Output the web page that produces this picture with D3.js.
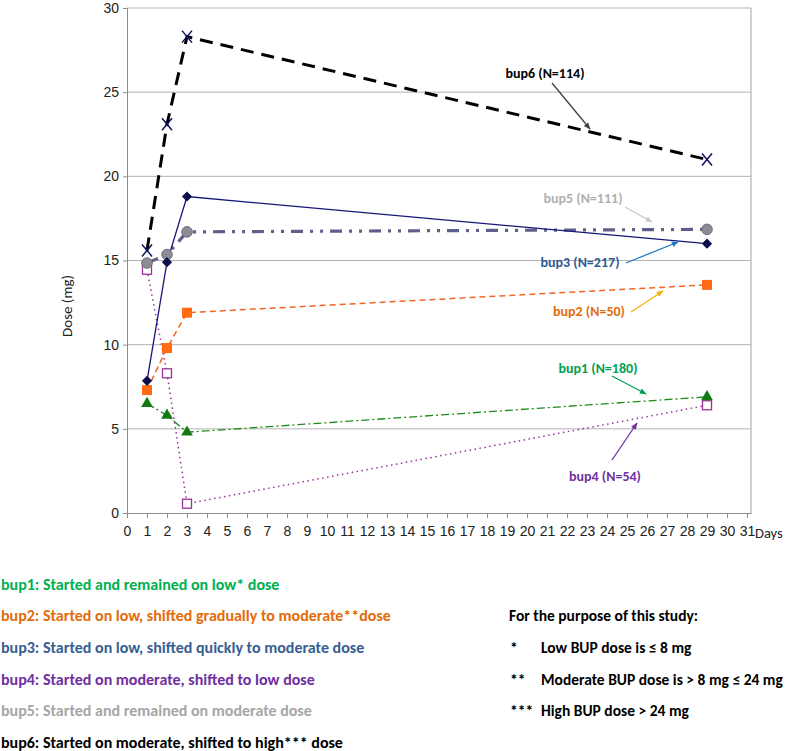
<!DOCTYPE html>
<html><head><meta charset="utf-8">
<script src="https://cdn.jsdelivr.net/npm/d3@7"></script>
<style>
body{margin:0;background:#fff;}
svg{display:block;}
</style></head>
<body>
<script>
const days = [1, 2, 3, 29];
const xTicks = d3.range(0, 32);
const yTicks = [0, 5, 10, 15, 20, 25, 30];
const bup1 = [6.5, 5.8, 4.8, 6.9];
const bup2 = [7.3, 9.8, 11.9, 13.55];
const bup3 = [7.85, 14.9, 18.8, 16.0];
const bup4 = [14.45, 8.3, 0.55, 6.4];
const bup5 = [14.85, 15.35, 16.7, 16.85];
const bup6 = [15.6, 23.1, 28.3, 21.0];
const seriesNames = ["bup1", "bup2", "bup3", "bup4", "bup5", "bup6"];
const annotations = ["bup1 (N=180)", "bup2 (N=50)", "bup3 (N=217)", "bup4 (N=54)", "bup5 (N=111)", "bup6 (N=114)"];
const legendTexts = [
  "bup1: Started and remained on low* dose",
  "bup2: Started on low, shifted gradually to moderate**dose",
  "bup3: Started on low, shifted quickly to moderate dose",
  "bup4: Started on moderate, shifted to low dose",
  "bup5: Started and remained on moderate dose",
  "bup6: Started on moderate, shifted to high*** dose"
];
const noteTitle = "For the purpose of this study:";
const noteMarks = ["*", "**", "***"];
const noteTexts = ["Low BUP dose is ≤ 8 mg", "Moderate BUP dose is > 8 mg ≤ 24 mg", "High BUP dose > 24 mg"];

const W = 800, H = 751;
const svg = d3.select("body").append("svg").attr("width", W).attr("height", H);
const defs = svg.append("defs");

const pLeft = 127, pRight = 751, pTop = 8, pBottom = 513;
const x = d3.scaleLinear().domain([0, 31.2]).range([pLeft, pRight]);
const y = d3.scaleLinear().domain([0, 30]).range([pBottom, pTop]);

const narrow = "'Liberation Sans Narrow','Arial Narrow','Liberation Sans',Arial,sans-serif";
const calibri = "Carlito,Calibri,Lato,'Open Sans',sans-serif";

svg.append("g").selectAll("line").data(yTicks.filter(d => d > 0)).join("line")
  .attr("x1", pLeft).attr("x2", pRight).attr("y1", d => y(d)).attr("y2", d => y(d))
  .attr("stroke", "#b3b3b3").attr("stroke-width", 1);
svg.append("line").attr("x1", pRight).attr("x2", pRight).attr("y1", pTop).attr("y2", pBottom)
  .attr("stroke", "#b3b3b3").attr("stroke-width", 1.2);

const yAxis = d3.axisLeft(y).tickValues(yTicks).tickSize(4).tickPadding(4);
const gy = svg.append("g").attr("transform", `translate(${pLeft},0)`).call(yAxis);
gy.select(".domain").attr("stroke", "#8c8c8c");
gy.selectAll(".tick line").attr("stroke", "#8c8c8c");
gy.selectAll("text").attr("font-family", narrow).attr("font-size", 14).attr("fill", "#222");

const xAxis = d3.axisBottom(x).tickValues(xTicks).tickSize(5).tickPadding(8).tickSizeOuter(0);
const gx = svg.append("g").attr("transform", `translate(0,${pBottom})`).call(xAxis);
gx.select(".domain").attr("stroke", "#8c8c8c");
gx.selectAll(".tick line").attr("stroke", "#8c8c8c");
gx.selectAll("text").attr("font-family", narrow).attr("font-size", 14).attr("fill", "#222");

svg.append("text").attr("x", 755).attr("y", 538).text("Days")
  .attr("font-family", calibri).attr("font-size", 14.5).attr("fill", "#222");
svg.append("text").attr("transform", "translate(72,306) rotate(-90)").attr("text-anchor", "middle")
  .text("Dose (mg)").attr("font-family", calibri).attr("font-size", 15).attr("fill", "#222");

const line = d3.line().x(d => x(d[0])).y(d => y(d[1]));
const pts = arr => days.map((d, i) => [d, arr[i]]);

const styles = {
  bup1: {stroke: "#1f8a1f", width: 1.3, dash: "8,3,2,3"},
  bup2: {stroke: "#f26522", width: 1.5, dash: "6,4"},
  bup3: {stroke: "#16167a", width: 1.3, dash: null},
  bup4: {stroke: "#993399", width: 1.5, dash: "1.5,3.5"},
  bup5: {stroke: "#5f5f8c", width: 3.2, dash: "12,7,3,7,3,7"},
  bup6: {stroke: "#000000", width: 3, dash: "13,8"}
};
const data = {bup1, bup2, bup3, bup4, bup5, bup6};
const order = ["bup4", "bup1", "bup2", "bup5", "bup3", "bup6"];

order.forEach(k => {
  const s = styles[k];
  svg.append("path").datum(pts(data[k])).attr("d", line)
    .attr("fill", "none").attr("stroke", s.stroke).attr("stroke-width", s.width)
    .attr("stroke-dasharray", s.dash);
});

function markers(k) {
  const g = svg.append("g");
  const p = pts(data[k]);
  if (k === "bup1") {
    g.selectAll("path").data(p).join("path")
      .attr("transform", d => `translate(${x(d[0])},${y(d[1])})`)
      .attr("d", d3.symbol(d3.symbolTriangle, 60)()).attr("fill", "#137a13");
  } else if (k === "bup2") {
    g.selectAll("rect").data(p).join("rect")
      .attr("x", d => x(d[0]) - 5).attr("y", d => y(d[1]) - 5).attr("width", 10).attr("height", 10)
      .attr("fill", "#ff6a13");
  } else if (k === "bup3") {
    g.selectAll("path").data(p).join("path")
      .attr("transform", d => `translate(${x(d[0])},${y(d[1])}) rotate(45)`)
      .attr("d", "M-3.6,-3.6H3.6V3.6H-3.6Z").attr("fill", "#0b0b4a");
  } else if (k === "bup4") {
    g.selectAll("rect").data(p).join("rect")
      .attr("x", d => x(d[0]) - 4.5).attr("y", d => y(d[1]) - 4.5).attr("width", 9).attr("height", 9)
      .attr("fill", "#fff").attr("stroke", "#993399").attr("stroke-width", 1.3);
  } else if (k === "bup5") {
    g.selectAll("circle").data(p).join("circle")
      .attr("cx", d => x(d[0])).attr("cy", d => y(d[1])).attr("r", 5.3)
      .attr("fill", "#8c8c96").attr("stroke", "#6e6e78").attr("stroke-width", 1);
  } else if (k === "bup6") {
    g.selectAll("path").data(p).join("path")
      .attr("transform", d => `translate(${x(d[0])},${y(d[1])})`)
      .attr("d", "M-5,-6L5,6M5,-6L-5,6").attr("stroke", "#101060").attr("stroke-width", 1.5).attr("fill", "none");
  }
}
order.forEach(markers);

const annColors = ["#00a050", "#e36c0a", "#2e5a96", "#7030a0", "#b0b0b0", "#000000"];
const arrowColors = ["#00a050", "#f2b30a", "#1f78c8", "#7030a0", "#c8c8c8", "#404040"];
const annPos = [[598, 368], [589, 311], [580, 262], [605, 476], [583, 198], [545, 73]];
const arrowFrom = [[612, 376], [631, 312], [626, 263], [612, 460], [625, 207], [552, 83]];
const arrowTo = [[646, 394], [663, 291], [678, 242], [637, 423], [652, 222], [590, 129]];

arrowColors.forEach((c, i) => {
  defs.append("marker").attr("id", "ah" + i).attr("viewBox", "0 0 10 10")
    .attr("refX", 9).attr("refY", 5).attr("markerWidth", 7).attr("markerHeight", 7)
    .attr("markerUnits", "userSpaceOnUse").attr("orient", "auto")
    .append("path").attr("d", "M0,1L10,5L0,9Z").attr("fill", c);
});
annotations.forEach((t, i) => {
  svg.append("line").attr("x1", arrowFrom[i][0]).attr("y1", arrowFrom[i][1])
    .attr("x2", arrowTo[i][0]).attr("y2", arrowTo[i][1])
    .attr("stroke", arrowColors[i]).attr("stroke-width", 1.3).attr("marker-end", `url(#ah${i})`);
  svg.append("text").attr("x", annPos[i][0]).attr("y", annPos[i][1]).attr("dy", "0.35em")
    .attr("text-anchor", "middle").text(t)
    .attr("font-family", calibri).attr("font-weight", "bold").attr("font-size", 14).attr("fill", annColors[i]);
});

const legColors = ["#00b050", "#e36c0a", "#376092", "#7030a0", "#a6a6a6", "#000000"];
const legY = [584, 615, 647, 679, 710, 742];
legendTexts.forEach((t, i) => {
  svg.append("text").attr("x", 1).attr("y", legY[i]).attr("dy", "0.35em").text(t)
    .attr("font-family", calibri).attr("font-weight", "bold").attr("font-size", 16).attr("fill", legColors[i]);
});

svg.append("text").attr("x", 509).attr("y", 616).attr("dy", "0.35em").text(noteTitle)
  .attr("font-family", calibri).attr("font-weight", "bold").attr("font-size", 15.5).attr("fill", "#000");
const noteY = [648, 680, 711];
noteMarks.forEach((m, i) => {
  svg.append("text").attr("x", 510).attr("y", noteY[i]).attr("dy", "0.35em").text(m)
    .attr("font-family", calibri).attr("font-weight", "bold").attr("font-size", 15.5).attr("fill", "#000");
  svg.append("text").attr("x", 541).attr("y", noteY[i]).attr("dy", "0.35em").text(noteTexts[i])
    .attr("font-family", calibri).attr("font-weight", "bold").attr("font-size", 15.5).attr("fill", "#000");
});
</script>
</body></html>
